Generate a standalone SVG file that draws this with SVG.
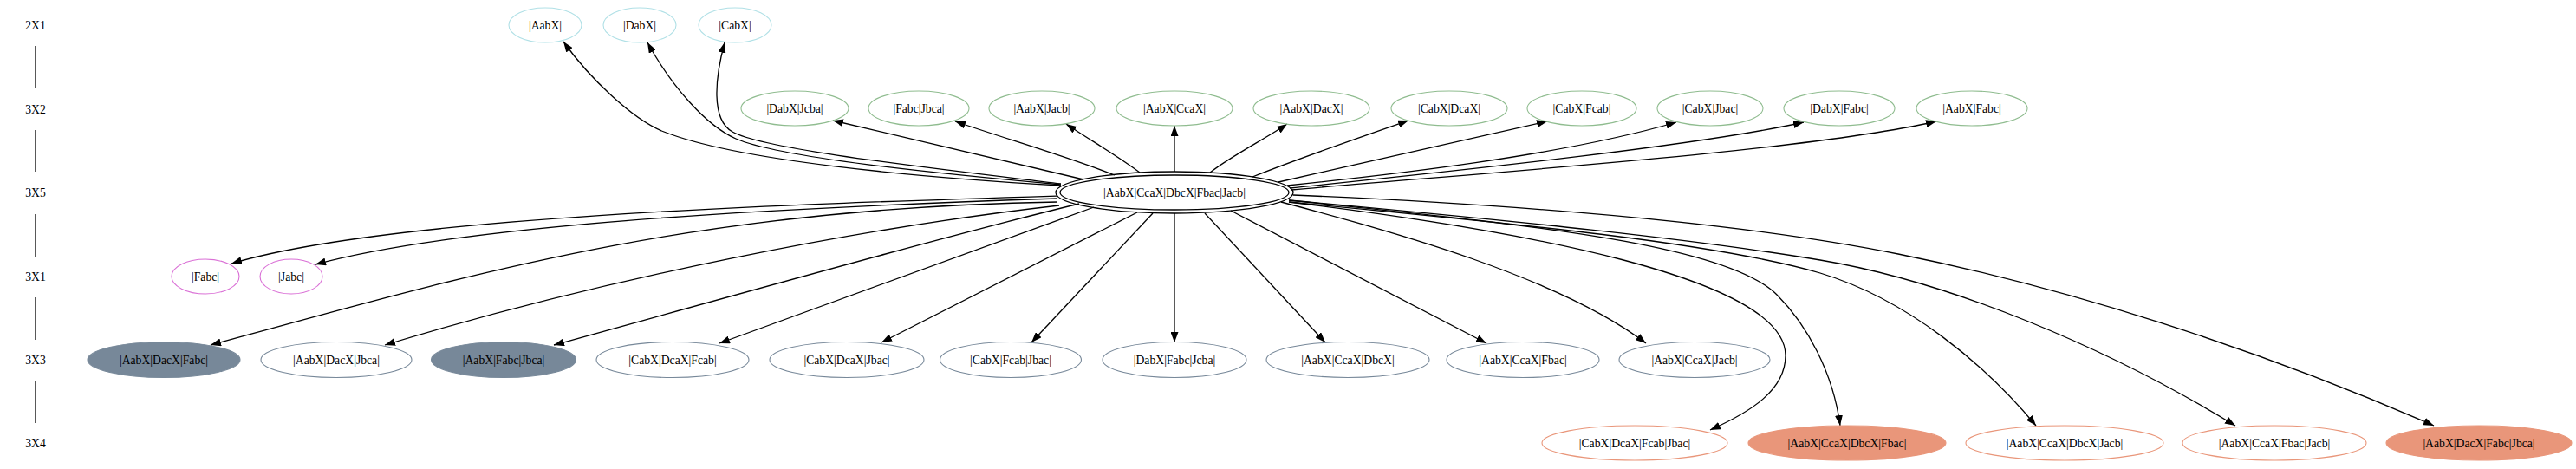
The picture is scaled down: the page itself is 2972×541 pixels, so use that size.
<svg xmlns="http://www.w3.org/2000/svg" width="2972" height="541" viewBox="0 0 2972 541">
<style>
text{font-family:"Liberation Serif","Times New Roman",serif;font-size:13.7px;fill:#000;text-anchor:middle}
.r1 ellipse{fill:none;stroke:#B0E0E6;stroke-width:1.1}
.r2 ellipse{fill:none;stroke:#8FBC8F;stroke-width:1.1}
.r31 ellipse{fill:none;stroke:#DA70D6;stroke-width:1.1}
.r33 ellipse{fill:none;stroke:#778899;stroke-width:1.1}
.r33.f ellipse{fill:#778899}
.r34 ellipse{fill:none;stroke:#E9967A;stroke-width:1.1}
.r34.f ellipse{fill:#E9967A}
.main ellipse{fill:none;stroke:#000;stroke-width:1.3}
.edges path{fill:none;stroke:#000;stroke-width:1.3;marker-end:url(#ah)}
.ranks line{stroke:#000;stroke-width:1.3}
</style>
<defs>
<marker id="ah" markerUnits="userSpaceOnUse" viewBox="0 0 12 9" markerWidth="12" markerHeight="9" refX="12" refY="4.5" orient="auto">
<path d="M0,0 L12,4.5 L0,9 z" fill="#000" stroke="none"/>
</marker>
</defs>
<rect width="2972" height="541" fill="#fff"/>

<g id="ranks" class="ranks">
<text x="41" y="34">2X1</text>
<text x="41" y="131">3X2</text>
<text x="41" y="227">3X5</text>
<text x="41" y="324">3X1</text>
<text x="41" y="420">3X3</text>
<text x="41" y="516">3X4</text>
<line x1="41" y1="53" x2="41" y2="101"/>
<line x1="41" y1="150" x2="41" y2="198"/>
<line x1="41" y1="247" x2="41" y2="296"/>
<line x1="41" y1="343" x2="41" y2="392"/>
<line x1="41" y1="440" x2="41" y2="488"/>
</g>

<g id="edges" class="edges">
<path id="e_AabX" d="M1224,214 C1050,204 850,185 766,152 C730,138 680,90 650,48"/>
<path id="e_DabX" d="M1224,213 C1080,200 900,182 849,160 C815,145 775,100 747,49"/>
<path id="e_CabX" d="M1224,212 C1060,192 880,172 845,152 C820,138 825,90 836,49"/>
<path id="e_DabX_Jcba" d="M1250,207 C1150,183 1050,160 961,139"/>
<path id="e_Fabc_Jbca" d="M1286,202 C1230,180 1160,160 1102,140"/>
<path id="e_AabX_Jacb" d="M1315,199 C1290,180 1255,160 1230,143"/>
<path id="e_AabX_CcaX" d="M1355,198 L1355,145"/>
<path id="e_AabX_DacX" d="M1396,199 C1420,180 1460,160 1485,143"/>
<path id="e_CabX_DcaX" d="M1445,204 C1500,182 1570,158 1625,139"/>
<path id="e_CabX_Fcab" d="M1475,210 C1580,186 1690,162 1785,140"/>
<path id="e_CabX_Jbac" d="M1485,214 C1600,202 1800,180 1934,141"/>
<path id="e_DabX_Fabc" d="M1488,217 C1650,200 1950,170 2081,141"/>
<path id="e_AabX_Fabc" d="M1490,219 C1700,200 2080,175 2234,140"/>

<path id="e_Fabc" d="M1220,226 C900,236 450,250 267,304"/>
<path id="e_Jabc" d="M1220,229 C950,238 550,255 364,305"/>
<path id="e_AabX_DacX_Fabc" d="M1220,233 C800,240 543,316 243,398"/>
<path id="e_AabX_DacX_Jbca" d="M1222,237 C1000,262 700,320 444,398"/>
<path id="e_AabX_Fabc_Jbca" d="M1245,235 C1100,270 850,340 639,398"/>
<path id="e_CabX_DcaX_Fcab" d="M1262,239 L830,396"/>
<path id="e_CabX_DcaX_Jbac" d="M1312,245 L1017,395"/>
<path id="e_CabX_Fcab_Jbac" d="M1330,246 L1190,395"/>
<path id="e_DabX_Fabc_Jcba" d="M1355,246 L1355,395"/>
<path id="e_AabX_CcaX_DbcX" d="M1390,246 L1529,395"/>
<path id="e_AabX_CcaX_Fbac" d="M1420,243 L1715,396"/>
<path id="e_AabX_CcaX_Jacb" d="M1478,233 C1600,265 1800,320 1899,396"/>

<path id="e_CabX_DcaX_Fcab_Jbac" d="M1487,233 C1750,265 2060,320 2060,410 C2060,450 2020,475 1973,496"/>
<path id="e_AabX_CcaX_DbcX_Fbac" d="M1487,231 C1750,258 1990,280 2050,340 C2085,375 2115,430 2123,491"/>
<path id="e_AabX_CcaX_DbcX_Jacb" d="M1487,233 C1750,258 1980,280 2100,315 C2200,345 2290,420 2349,491"/>
<path id="e_AabX_CcaX_Fbac_Jacb" d="M1487,231 C1750,255 1950,275 2100,300 C2250,325 2430,400 2579,491"/>
<path id="e_AabX_DacX_Fabc_Jbca" d="M1492,225 C1750,236 2000,255 2190,293 C2380,331 2600,400 2808,491"/>
</g>

<g id="n_main" class="main">
<ellipse cx="1355" cy="222" rx="137" ry="24"/>
<ellipse cx="1355" cy="222" rx="132" ry="20"/>
<text x="1355" y="227">|AabX|CcaX|DbcX|Fbac|Jacb|</text>
</g>

<g id="n_AabX" class="r1"><ellipse cx="629" cy="29" rx="42" ry="20"/><text x="629" y="34">|AabX|</text></g>
<g id="n_DabX" class="r1"><ellipse cx="738" cy="29" rx="42" ry="20"/><text x="738" y="34">|DabX|</text></g>
<g id="n_CabX" class="r1"><ellipse cx="848" cy="29" rx="42" ry="20"/><text x="848" y="34">|CabX|</text></g>

<g id="n_DabX_Jcba" class="r2"><ellipse cx="917" cy="125" rx="62" ry="20"/><text x="917" y="130">|DabX|Jcba|</text></g>
<g id="n_Fabc_Jbca" class="r2"><ellipse cx="1060" cy="125" rx="58" ry="20"/><text x="1060" y="130">|Fabc|Jbca|</text></g>
<g id="n_AabX_Jacb" class="r2"><ellipse cx="1202" cy="125" rx="61" ry="20"/><text x="1202" y="130">|AabX|Jacb|</text></g>
<g id="n_AabX_CcaX" class="r2"><ellipse cx="1355" cy="125" rx="67" ry="20"/><text x="1355" y="130">|AabX|CcaX|</text></g>
<g id="n_AabX_DacX" class="r2"><ellipse cx="1513" cy="125" rx="67" ry="20"/><text x="1513" y="130">|AabX|DacX|</text></g>
<g id="n_CabX_DcaX" class="r2"><ellipse cx="1672" cy="125" rx="67" ry="20"/><text x="1672" y="130">|CabX|DcaX|</text></g>
<g id="n_CabX_Fcab" class="r2"><ellipse cx="1825" cy="125" rx="63" ry="20"/><text x="1825" y="130">|CabX|Fcab|</text></g>
<g id="n_CabX_Jbac" class="r2"><ellipse cx="1973" cy="125" rx="61" ry="20"/><text x="1973" y="130">|CabX|Jbac|</text></g>
<g id="n_DabX_Fabc" class="r2"><ellipse cx="2122" cy="125" rx="64" ry="20"/><text x="2122" y="130">|DabX|Fabc|</text></g>
<g id="n_AabX_Fabc" class="r2"><ellipse cx="2275" cy="125" rx="64" ry="20"/><text x="2275" y="130">|AabX|Fabc|</text></g>

<g id="n_Fabc" class="r31"><ellipse cx="237" cy="319" rx="39" ry="20"/><text x="237" y="324">|Fabc|</text></g>
<g id="n_Jabc" class="r31"><ellipse cx="336" cy="319" rx="36" ry="20"/><text x="336" y="324">|Jabc|</text></g>

<g id="n_AabX_DacX_Fabc" class="r33 f"><ellipse cx="189" cy="415" rx="88" ry="20.5"/><text x="189" y="420">|AabX|DacX|Fabc|</text></g>
<g id="n_AabX_DacX_Jbca" class="r33"><ellipse cx="388" cy="415" rx="87" ry="20.5"/><text x="388" y="420">|AabX|DacX|Jbca|</text></g>
<g id="n_AabX_Fabc_Jbca" class="r33 f"><ellipse cx="581" cy="415" rx="83.5" ry="20.5"/><text x="581" y="420">|AabX|Fabc|Jbca|</text></g>
<g id="n_CabX_DcaX_Fcab" class="r33"><ellipse cx="776" cy="415" rx="88" ry="20.5"/><text x="776" y="420">|CabX|DcaX|Fcab|</text></g>
<g id="n_CabX_DcaX_Jbac" class="r33"><ellipse cx="977" cy="415" rx="89" ry="20.5"/><text x="977" y="420">|CabX|DcaX|Jbac|</text></g>
<g id="n_CabX_Fcab_Jbac" class="r33"><ellipse cx="1166" cy="415" rx="81.5" ry="20.5"/><text x="1166" y="420">|CabX|Fcab|Jbac|</text></g>
<g id="n_DabX_Fabc_Jcba" class="r33"><ellipse cx="1355" cy="415" rx="83" ry="20.5"/><text x="1355" y="420">|DabX|Fabc|Jcba|</text></g>
<g id="n_AabX_CcaX_DbcX" class="r33"><ellipse cx="1555" cy="415" rx="94" ry="20.5"/><text x="1555" y="420">|AabX|CcaX|DbcX|</text></g>
<g id="n_AabX_CcaX_Fbac" class="r33"><ellipse cx="1757" cy="415" rx="88" ry="20.5"/><text x="1757" y="420">|AabX|CcaX|Fbac|</text></g>
<g id="n_AabX_CcaX_Jacb" class="r33"><ellipse cx="1955" cy="415" rx="87" ry="20.5"/><text x="1955" y="420">|AabX|CcaX|Jacb|</text></g>

<g id="n_CabX_DcaX_Fcab_Jbac" class="r34"><ellipse cx="1886" cy="511" rx="107" ry="20"/><text x="1886" y="516">|CabX|DcaX|Fcab|Jbac|</text></g>
<g id="n_AabX_CcaX_DbcX_Fbac" class="r34 f"><ellipse cx="2131" cy="511" rx="114" ry="20"/><text x="2131" y="516">|AabX|CcaX|DbcX|Fbac|</text></g>
<g id="n_AabX_CcaX_DbcX_Jacb" class="r34"><ellipse cx="2382" cy="511" rx="114" ry="20"/><text x="2382" y="516">|AabX|CcaX|DbcX|Jacb|</text></g>
<g id="n_AabX_CcaX_Fbac_Jacb" class="r34"><ellipse cx="2624" cy="511" rx="106" ry="20"/><text x="2624" y="516">|AabX|CcaX|Fbac|Jacb|</text></g>
<g id="n_AabX_DacX_Fabc_Jbca" class="r34 f"><ellipse cx="2860" cy="511" rx="107" ry="20"/><text x="2860" y="516">|AabX|DacX|Fabc|Jbca|</text></g>
</svg>
